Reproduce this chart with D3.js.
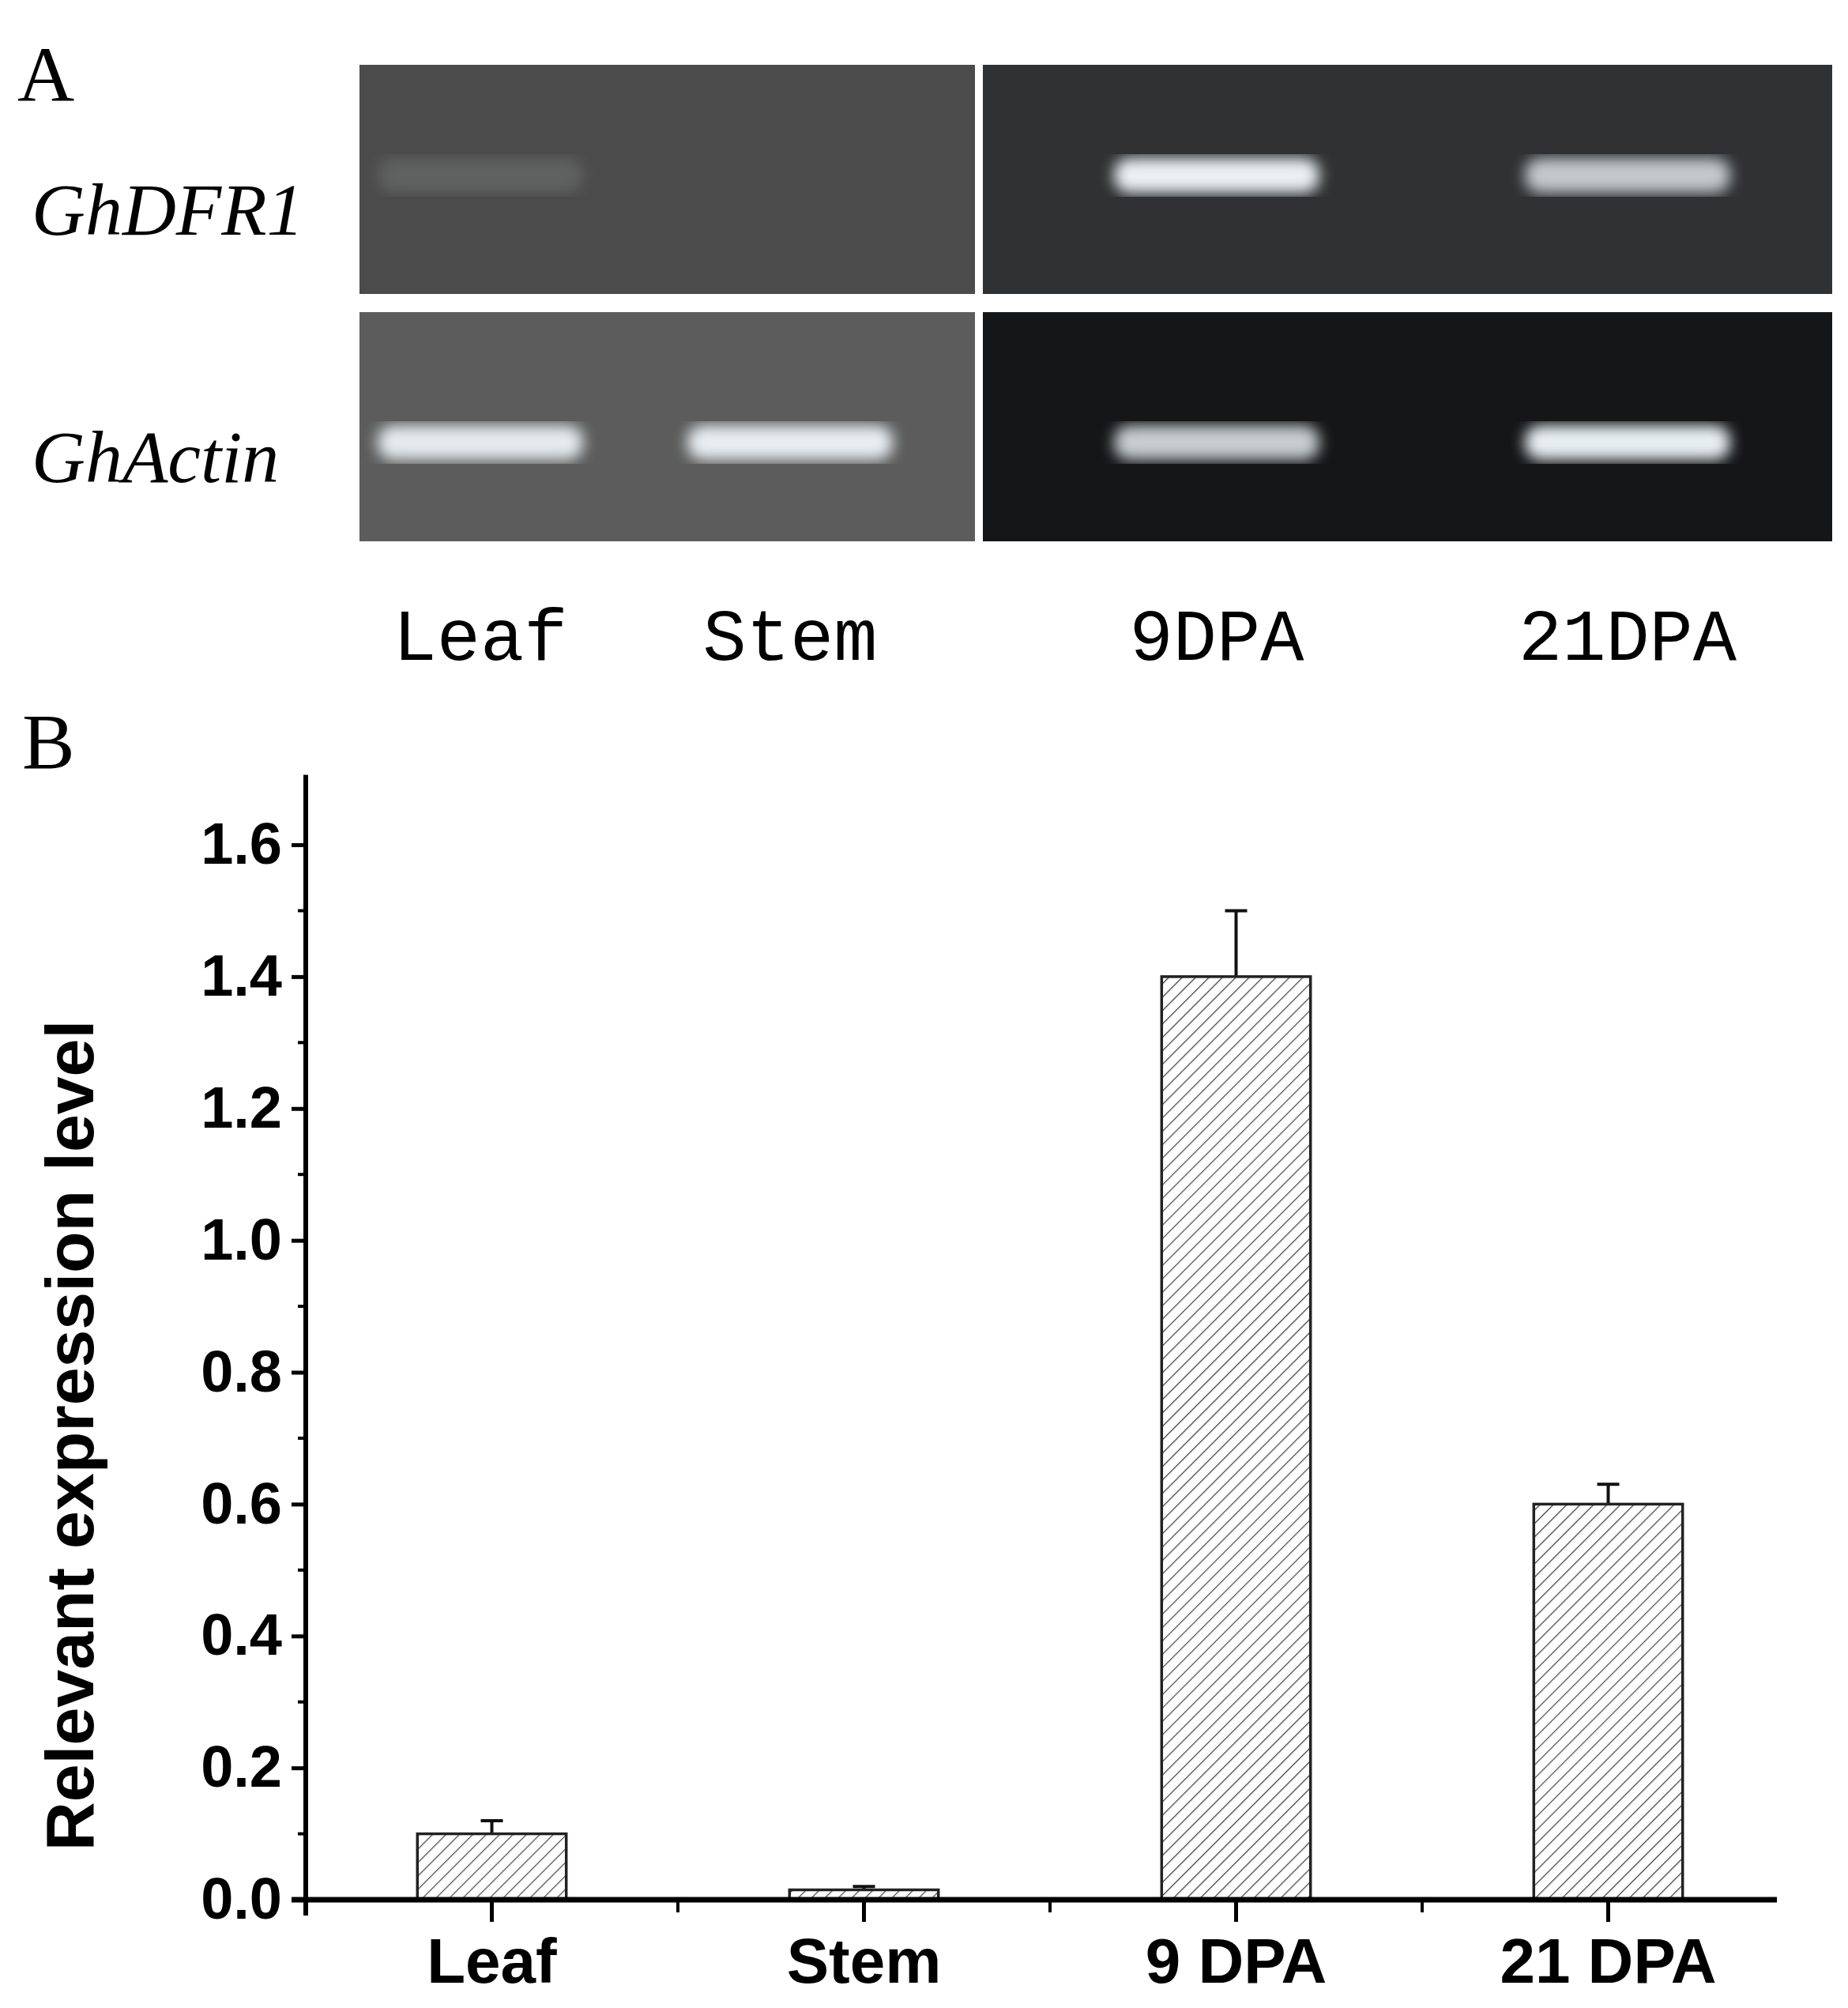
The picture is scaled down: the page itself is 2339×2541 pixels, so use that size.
<!DOCTYPE html>
<html><head><meta charset="utf-8">
<script src="https://cdn.jsdelivr.net/npm/d3@7"></script>
<style>body{margin:0;background:#fff}</style>
</head><body>
<svg id="fig" width="2339" height="2541"></svg>
<script>
// Bar chart data
var categories = ["Leaf", "Stem", "9 DPA", "21 DPA"];
var values = [0.10, 0.015, 1.40, 0.60];
var errors = [0.02, 0.005, 0.10, 0.03];
var yTicks = [0, 0.2, 0.4, 0.6, 0.8, 1.0, 1.2, 1.4, 1.6];

// Gel panel data
var laneLabels = ["Leaf", "Stem", "9DPA", "21DPA"];
var geneNames = ["GhDFR1", "GhActin"];
var bandIntensity = [[0.12, 0.0, 0.95, 0.75], [0.9, 0.92, 0.8, 0.95]];

var svg = d3.select("#fig");

// ---- Panel A: gel ----
svg.append("text").attr("x", 22).attr("y", 128).text("A")
  .style("font-family", "Liberation Serif").style("font-size", "100px");

var defs = svg.append("defs");
defs.append("filter").attr("id", "blur").append("feGaussianBlur").attr("stdDeviation", 9);

var laneX = d3.scaleOrdinal().domain(laneLabels).range([608, 1000, 1540, 2060]);
var rowY = d3.scaleOrdinal().domain(geneNames).range([82, 395]);
var rowH = 290;
var bandY = [222, 560];
var panelBg = [["#4b4b4b", "#2f3132"], ["#5c5c5c", "#141617"]];

geneNames.forEach(function(g, r) {
  svg.append("rect").attr("x", 455).attr("y", rowY(g)).attr("width", 779).attr("height", rowH).attr("fill", panelBg[r][0]);
  svg.append("rect").attr("x", 1244).attr("y", rowY(g)).attr("width", 1075).attr("height", rowH).attr("fill", panelBg[r][1]);
  svg.append("text").attr("x", 40).attr("y", rowY(g) + 215).text(g)
    .style("font-family", "Liberation Serif").style("font-style", "italic").style("font-size", "94px");
  laneLabels.forEach(function(l, i) {
    var a = bandIntensity[r][i];
    if (a <= 0) return;
    svg.append("rect").attr("x", laneX(l) - 130).attr("y", bandY[r] - 22)
      .attr("width", 260).attr("height", 44).attr("rx", 20)
      .attr("fill", "#f4fbff").attr("opacity", a).attr("filter", "url(#blur)");
  });
});

svg.selectAll(".lane").data(laneLabels).enter().append("text")
  .attr("x", function(d) { return laneX(d); }).attr("y", 835)
  .attr("text-anchor", "middle").text(function(d) { return d; })
  .style("font-family", "Liberation Mono").style("font-size", "92px");

// ---- Panel B: bars ----
svg.append("text").attr("x", 28).attr("y", 972).text("B")
  .style("font-family", "Liberation Serif").style("font-size", "100px");

var x0 = 387, y0 = 2404;
var x = d3.scaleBand().domain(categories).range([x0, x0 + 4 * 471]).paddingInner(0.6).paddingOuter(0.3);
var y = d3.scaleLinear().domain([0, 1.6]).range([y0, 1069]);

var pat = defs.append("pattern").attr("id", "hatch").attr("patternUnits", "userSpaceOnUse")
  .attr("width", 12).attr("height", 12).attr("patternTransform", "rotate(45)");
pat.append("rect").attr("width", 12).attr("height", 12).attr("fill", "#fff");
pat.append("line").attr("x1", 0).attr("y1", 0).attr("x2", 0).attr("y2", 12).attr("stroke", "#444").attr("stroke-width", 2.5);

// error bars (upper only)
svg.selectAll(".err").data(categories).enter().append("path")
  .attr("d", function(d, i) {
    var cx = x(d) + x.bandwidth() / 2, yt = y(values[i] + errors[i]);
    return "M" + cx + "," + y(values[i]) + "V" + yt + "M" + (cx - 14) + "," + yt + "H" + (cx + 14);
  })
  .attr("stroke", "#111").attr("stroke-width", 4).attr("fill", "none");

svg.selectAll(".bar").data(categories).enter().append("rect")
  .attr("x", function(d) { return x(d); })
  .attr("y", function(d, i) { return y(values[i]); })
  .attr("width", x.bandwidth())
  .attr("height", function(d, i) { return y0 - y(values[i]); })
  .attr("fill", "url(#hatch)").attr("stroke", "#222").attr("stroke-width", 3.5);

// y axis
var yAxis = d3.axisLeft(y).tickValues(yTicks).tickFormat(d3.format(".1f")).tickSize(18).tickPadding(12);
var gy = svg.append("g").attr("transform", "translate(" + x0 + ",0)").call(yAxis);
gy.select(".domain").remove();
gy.selectAll(".tick line").attr("stroke-width", 5);
gy.selectAll("text").style("font-family", "Liberation Sans").style("font-weight", "bold").style("font-size", "74px");
var minorY = d3.range(0.1, 1.7, 0.2);
svg.selectAll(".ym").data(minorY).enter().append("line")
  .attr("x1", x0 - 10).attr("x2", x0).attr("y1", function(d) { return y(d); }).attr("y2", function(d) { return y(d); })
  .attr("stroke", "#000").attr("stroke-width", 4);
svg.append("line").attr("x1", x0).attr("x2", x0).attr("y1", y(1.7) - 5).attr("y2", y0 + 20)
  .attr("stroke", "#000").attr("stroke-width", 6);

// x axis
var xAxis = d3.axisBottom(x).tickSize(28).tickPadding(20);
var gx = svg.append("g").attr("transform", "translate(0," + y0 + ")").call(xAxis);
gx.select(".domain").remove();
gx.selectAll(".tick line").attr("stroke-width", 5);
gx.selectAll("text").style("font-family", "Liberation Sans").style("font-weight", "bold").style("font-size", "80px");
var mids = categories.slice(1).map(function(d) { return x(d) - x.step() * x.paddingInner() / 2; });
svg.selectAll(".xm").data(mids).enter().append("line")
  .attr("x1", function(d) { return d; }).attr("x2", function(d) { return d; })
  .attr("y1", y0).attr("y2", y0 + 16).attr("stroke", "#000").attr("stroke-width", 4);
svg.append("line").attr("x1", x0 - 18).attr("x2", 2249).attr("y1", y0).attr("y2", y0)
  .attr("stroke", "#000").attr("stroke-width", 7);

svg.append("text").attr("transform", "translate(118," + ((y0 + 1069) / 2 + 80) + ") rotate(-90)")
  .attr("text-anchor", "middle").text("Relevant expression level")
  .style("font-family", "Liberation Sans").style("font-weight", "bold").style("font-size", "86px");
</script>
</body></html>
